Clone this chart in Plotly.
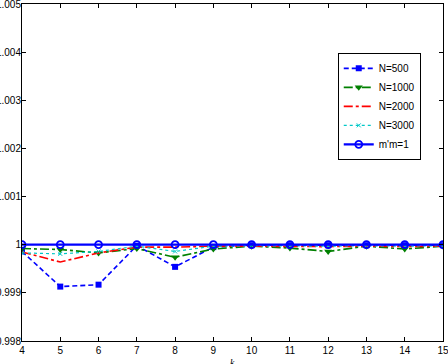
import plotly.graph_objects as go

k = [4, 5, 6, 7, 8, 9, 10, 11, 12, 13, 14, 15]

n500 = [0.99986, 0.99913, 0.99917, 0.99998, 0.99954, 0.99995,
        0.99999, 0.99999, 0.99999, 0.99999, 0.99999, 0.99999]
n1000 = [0.99992, 0.99990, 0.99983, 0.99992, 0.99974, 0.99991,
         0.99997, 0.99993, 0.99986, 0.99997, 0.99991, 0.99997]
n2000 = [0.99985, 0.99964, 0.99983, 0.99995, 0.99995, 0.99997,
         0.99997, 0.99996, 0.99996, 0.99997, 0.99996, 0.99997]
n3000 = [0.99983, 0.99981, 0.99986, 0.99997, 0.99986, 0.99997,
         0.99998, 0.99997, 0.99997, 0.99998, 0.99997, 0.99998]
mm1 = [1.0] * len(k)

labels = ["N=500", "N=1000", "N=2000", "N=3000", "m'm=1"]
y_ticks = [0.998, 0.999, 1.0, 1.001, 1.002, 1.003, 1.004, 1.005]
y_ticktext = ["0.998", "0.999", "1", "1.001", "1.002", "1.003", "1.004", "1.005"]

FONT = "Liberation Sans, Arial, sans-serif"

fig = go.Figure()

# N=500 : blue dashed, filled squares
fig.add_trace(go.Scatter(
    x=k, y=n500, name=labels[0], mode="lines+markers",
    line=dict(color="#0000ff", width=1.6, dash="5px,3px"),
    marker=dict(symbol="square", size=6, color="#0000ff"),
))
# N=1000 : green dash-dot, down triangles
fig.add_trace(go.Scatter(
    x=k, y=n1000, name=labels[1], mode="lines+markers",
    line=dict(color="#008000", width=1.6, dash="dashdot"),
    marker=dict(symbol="triangle-down", size=7, color="#008000"),
))
# N=2000 : red dash-dot, no markers
fig.add_trace(go.Scatter(
    x=k, y=n2000, name=labels[2], mode="lines",
    line=dict(color="#ff0000", width=1.6, dash="dashdot"),
))
# N=3000 : cyan dotted, x markers
fig.add_trace(go.Scatter(
    x=k, y=n3000, name=labels[3], mode="lines+markers",
    line=dict(color="#00c8c8", width=1.2, dash="dot"),
    marker=dict(symbol="x-thin", size=4, color="#00c8c8",
                line=dict(color="#00c8c8", width=1)),
))
# m'm=1 : solid blue with open circles
fig.add_trace(go.Scatter(
    x=k, y=mm1, name=labels[4], mode="lines+markers",
    line=dict(color="#0000ff", width=2.2),
    marker=dict(symbol="circle-open", size=7, color="#0000ff",
                line=dict(color="#0000ff", width=1.8)),
))

fig.update_layout(
    width=448, height=364,
    margin=dict(l=22, r=5, t=4, b=23),
    plot_bgcolor="white", paper_bgcolor="white",
    font=dict(family=FONT, size=10, color="black"),
    legend=dict(
        x=0.75, y=0.855, xanchor="left", yanchor="top",
        bgcolor="white", bordercolor="black", borderwidth=1,
        font=dict(size=10), itemwidth=30, tracegroupgap=0,
    ),
    annotations=[dict(
        text="<i>k</i>", x=0.5, y=0, xref="paper", yref="paper",
        xanchor="center", yanchor="middle", yshift=-21, showarrow=False,
        font=dict(family="Liberation Serif, Times New Roman, serif", size=10),
    )],
)

axis_style = dict(
    showgrid=False, zeroline=False,
    showline=True, linecolor="black", linewidth=1, mirror="ticks",
    ticks="inside", ticklen=4, tickcolor="black",
    automargin=False, ticklabeloverflow="allow",
)
fig.update_xaxes(range=[4, 15], tickmode="linear", tick0=4, dtick=1, **axis_style)
fig.update_yaxes(range=[0.998, 1.005], tickvals=y_ticks, ticktext=y_ticktext,
                 ticklabelstandoff=-2, **axis_style)

# page body has a default 8px margin; drop it so the figure sits at 0,0
fig.write_html("out.html", config={"displayModeBar": False},
               post_script="document.body.style.margin='0';")
